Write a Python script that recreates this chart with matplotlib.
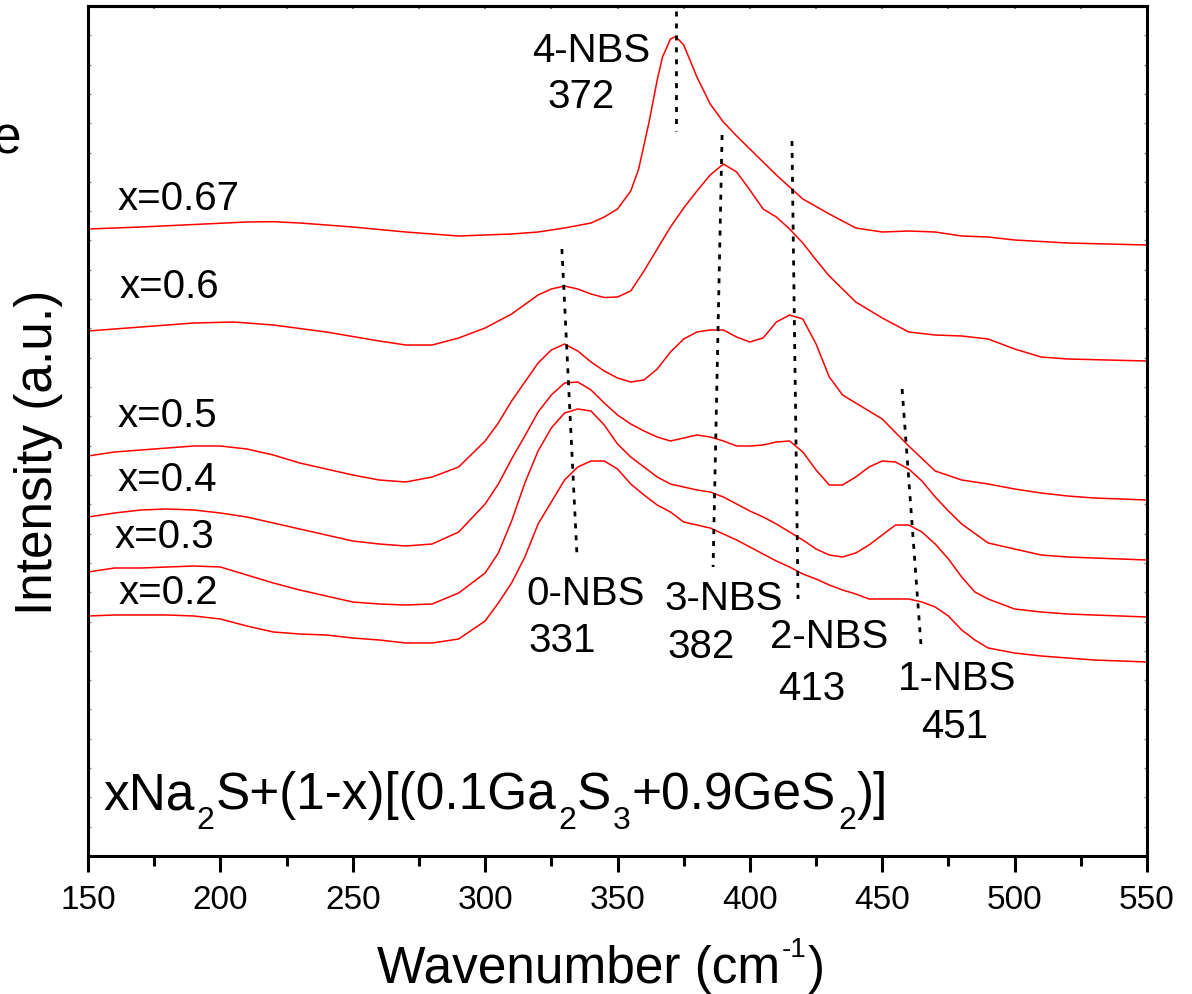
import matplotlib
matplotlib.use("Agg")
import matplotlib.pyplot as plt
from matplotlib.ticker import MultipleLocator
from matplotlib.transforms import offset_copy

plt.rcParams['font.family'] = ['Liberation Sans', 'DejaVu Sans']
plt.rcParams['axes.unicode_minus'] = False

# Raman spectra, offset vertically (a.u.)
wn_067 = [150, 170, 190, 210, 220, 230, 250, 270, 290, 310, 320, 330, 340, 345, 350, 355, 358,
          360, 362, 365, 367, 370, 372, 375, 380, 385, 390, 395, 400, 410, 420, 430, 440, 450,
          460, 470, 480, 490, 500, 520, 550]
int_067 = [627, 629, 631.5, 634, 634.3, 633, 629, 624, 620, 622, 624, 628, 633, 639, 647, 665, 687,
           711, 735, 776, 799, 817, 819.5, 811, 779, 752, 734, 720, 707, 681, 657, 642, 628, 624,
           625, 624, 620, 619, 616, 613, 611]

wn_060 = [150, 170, 190, 205, 220, 240, 260, 270, 280, 290, 300, 310, 320, 325, 330, 335, 340, 345,
          350, 355, 360, 365, 370, 375, 380, 385, 390, 395, 400, 405, 410, 415, 420, 425, 430, 440,
          450, 460, 470, 480, 490, 500, 510, 520, 550]
int_060 = [525, 529, 533, 534, 531, 524, 515, 511, 511, 518, 528, 542, 561, 567, 570, 567, 562, 558.5,
           559, 565, 585, 607, 629, 648, 665, 681, 692, 684, 666, 647, 639, 627, 613, 596, 580, 554,
           538, 524, 521, 520, 517, 507, 499, 497, 495]

wn_050 = [150, 160, 170, 180, 190, 200, 210, 220, 230, 240, 250, 260, 270, 280, 290, 300, 305, 310,
          315, 320, 325, 330, 335, 340, 345, 350, 355, 360, 365, 370, 375, 380, 385, 390, 395, 400,
          405, 410, 415, 420, 425, 430, 435, 440, 450, 460, 470, 480, 490, 500, 510, 520, 530, 550]
int_050 = [400, 404, 406, 408, 410, 410, 407, 401, 393, 387, 381, 376, 374, 379, 389, 415, 433, 455,
           474, 493, 506, 512, 505, 494, 485, 478, 474, 476, 487, 504, 517, 524, 526, 526, 519, 514,
           518, 534, 541, 537, 512, 479, 461, 453, 437, 410, 385, 376, 372, 367, 363, 360, 358, 356]

wn_040 = [150, 160, 170, 180, 190, 200, 210, 220, 230, 240, 250, 260, 270, 280, 290, 300, 305, 310,
          315, 320, 325, 330, 335, 340, 345, 350, 355, 360, 365, 370, 375, 380, 385, 390, 395, 400,
          405, 410, 415, 420, 425, 430, 435, 440, 445, 450, 455, 460, 465, 470, 475, 480, 490, 500,
          510, 520, 550]
int_040 = [339, 343, 346, 347, 346, 343, 339, 333, 327, 321, 315, 312, 310, 312, 324, 352, 372, 397,
           420, 444, 461, 473, 474, 466, 453, 441, 432, 425, 419, 415, 418, 421, 419, 415, 410, 410,
           411, 414, 415, 404, 386, 371, 371, 379, 389, 395, 394, 387, 375, 359, 345, 332, 313, 307,
           301, 299, 296]

wn_030 = [150, 160, 170, 180, 190, 200, 210, 220, 230, 240, 250, 260, 270, 280, 290, 300, 305, 310,
          315, 320, 325, 330, 335, 340, 345, 350, 355, 360, 365, 370, 375, 380, 385, 390, 395, 400,
          405, 410, 415, 420, 425, 430, 435, 440, 445, 450, 455, 460, 465, 470, 475, 480, 485, 490,
          500, 510, 520, 550]
int_030 = [284, 288, 288, 289, 290, 289, 281, 273, 266, 260, 254, 252, 251, 252, 263, 283, 303, 335,
           373, 405, 428, 443, 447, 445, 431, 412, 399, 389, 379, 372, 369, 366, 364, 359, 352, 345,
           339, 332, 324, 316, 307, 301, 299, 303, 311, 321, 331, 331, 324, 312, 297, 279, 264, 257,
           247, 244, 242, 239]

wn_020 = [150, 160, 170, 180, 190, 200, 210, 220, 230, 240, 250, 260, 270, 280, 290, 300, 305, 310,
          315, 320, 325, 330, 335, 340, 345, 350, 355, 360, 365, 370, 375, 380, 385, 390, 395, 400,
          405, 410, 415, 420, 425, 430, 435, 440, 445, 450, 455, 460, 465, 470, 475, 480, 485, 490,
          500, 510, 520, 530, 550]
int_020 = [240, 241, 241, 241, 240, 237, 230, 224, 222, 221, 218, 216, 213, 213, 217, 235, 253, 273,
           299, 332, 354, 376, 389, 395, 395, 387, 372, 361, 351, 344, 334, 331, 328, 322, 316, 309,
           302, 295, 289, 282, 277, 271, 266, 262, 257, 257, 257, 257, 254, 249, 240, 226, 216, 208,
           203, 200, 198, 196, 194]

spectra = [(wn_067, int_067), (wn_060, int_060), (wn_050, int_050),
           (wn_040, int_040), (wn_030, int_030), (wn_020, int_020)]

# composition labels: text, wavenumber, intensity
comp_labels = ['x=0.67', 'x=0.6', 'x=0.5', 'x=0.4', 'x=0.3', 'x=0.2']
comp_x = [161.3, 162.1, 161.3, 161.0, 160.2, 161.7]
comp_y = [647, 559, 430, 366, 309, 253]

# n-NBS band guides: (wn_top, int_top) -> (wn_bottom, int_bottom)
nbs_names = ['4-NBS', '0-NBS', '3-NBS', '2-NBS', '1-NBS']
nbs_values = ['372', '331', '382', '413', '451']
guide_top_wn = [372.0, 329.0, 389.5, 415.9, 457.5]
guide_top_int = [845, 607, 721, 715, 467]
guide_bot_wn = [372.0, 334.7, 386.1, 418.2, 464.6]
guide_bot_int = [725, 300, 289, 257, 212]
name_pos = [(317.7, 795), (315.4, 252), (367.6, 247), (407.6, 209), (456.0, 167)]
value_pos = [(323.4, 749), (316.2, 205), (368.7, 199), (410.6, 157), (464.6, 119)]

# rich texts as (piece, vertical offset in px); offset 0 is normal size
formula_parts = [('xNa', 0), ('2', -20), ('S+(1-x)[(0.1Ga', 0), ('2', -20),
                 ('S', 0), ('3', -20), ('+0.9GeS', 0), ('2', -20), (')]', 0)]
xlabel_parts = [('Wavenumber (cm', 0), ('-1', 26), (')', 0)]

fig = plt.figure(figsize=(11.92, 9.95), dpi=100)
ax = fig.add_axes([88 / 1192, 138 / 995, 1059 / 1192, 850 / 995])
renderer = fig.canvas.get_renderer()


def draw_pieces(x, y, parts, base, size, small):
    """Lay text pieces side by side; raised/lowered pieces use the small size."""
    shift = 0.0
    for part, dy in parts:
        tr = offset_copy(base, fig=fig, x=shift, y=dy, units='dots')
        t = fig.text(x, y, part, fontsize=size if dy == 0 else small,
                     va='baseline', transform=tr)
        shift += t.get_window_extent(renderer).width + (2 if dy == 0 else 1)


for wn, inten in spectra:
    ax.plot(wn, inten, color='#ff0000', lw=1.1)

for i in range(len(nbs_names)):
    ax.plot([guide_top_wn[i], guide_bot_wn[i]], [guide_top_int[i], guide_bot_int[i]],
            color='black', lw=2.0, linestyle=(0, (1.8, 2.5)))
    ax.text(name_pos[i][0], name_pos[i][1], nbs_names[i], fontsize=29, va='baseline')
    ax.text(value_pos[i][0], value_pos[i][1], nbs_values[i], fontsize=29, va='baseline')

for lab, lx, ly in zip(comp_labels, comp_x, comp_y):
    ax.text(lx, ly, lab, fontsize=29, va='baseline')

draw_pieces(155.7, 48, formula_parts, ax.transData, 37, 23)

ax.set_xlim(150, 550)
ax.set_ylim(0, 850)

for sp in ax.spines.values():
    sp.set_linewidth(2.2)

ax.xaxis.set_major_locator(MultipleLocator(50))
ax.xaxis.set_minor_locator(MultipleLocator(25))
ax.tick_params(axis='x', which='major', direction='out', length=11.5, width=2.2,
               labelsize=24, pad=9)
ax.tick_params(axis='x', which='minor', direction='out', length=7, width=2.2)

# small inward ticks along the frame
ax.set_yticks([850 / 29 * k for k in range(30)])
ax.tick_params(axis='y', direction='in', length=2.5, width=1, color='0.5',
               left=True, right=True, labelleft=False)
top = ax.secondary_xaxis('top')
top.set_xticks(list(range(150, 551, 25)))
top.tick_params(direction='in', length=2.5, width=1.2, color='0.4', labeltop=False)
top.spines['top'].set_linewidth(2.2)

draw_pieces(377 / 1192, 12 / 995, xlabel_parts, fig.transFigure, 37, 20)
fig.text(52 / 1192, 1 - 452 / 995, 'Intensity (a.u.)', fontsize=37, rotation=90,
         rotation_mode='anchor', ha='center', va='baseline')
fig.text(-7 / 1192, 1 - 154 / 995, 'e', fontsize=37, va='baseline')

fig.savefig('out.png', dpi=100)
